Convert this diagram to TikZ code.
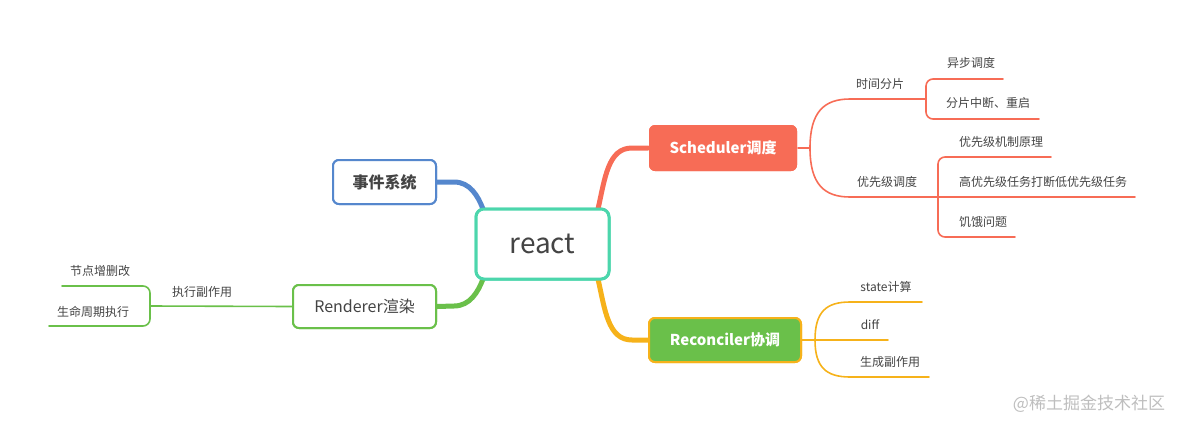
\documentclass[tikz,border=0pt]{standalone}
\usepackage{fontspec}
\setmainfont{Noto Sans CJK SC}
\definecolor{cred}{RGB}{247,108,86}
\definecolor{cgreen}{RGB}{106,192,74}
\definecolor{cyellow}{RGB}{246,178,26}
\definecolor{cblue}{RGB}{85,135,205}
\definecolor{cteal}{RGB}{76,214,172}
\definecolor{ctext}{RGB}{68,68,68}
\definecolor{cwm}{RGB}{190,190,190}
\tikzset{
  topicbox/.style={draw, rounded corners=6pt, line width=2pt, inner sep=0pt, text=ctext, font=\fontsize{16}{18}\selectfont},
  leaf/.style={text=ctext, font=\fontsize{12}{14}\selectfont, inner sep=0pt},
  thick branch/.style={line width=5pt, line cap=round},
  thin branch/.style={line width=1.6pt, line cap=round},
}
\begin{document}
\begin{tikzpicture}[x=1pt,y=-1pt]
\useasboundingbox (0,0) rectangle (1185,429);
% main nodes
\node[topicbox, draw=cteal, line width=3pt, rounded corners=8pt, minimum width=133pt, minimum height=70pt, font=\fontsize{28}{30}\selectfont] (root) at (542.5,244) {react};
\node[topicbox, draw=cblue, minimum width=103pt, minimum height=44pt, font=\fontsize{16}{18}\selectfont\bfseries] (ev) at (384.5,182) {事件系统};
\node[topicbox, draw=cgreen, minimum width=143pt, minimum height=43pt] (rd) at (364.5,306.5) {Renderer渲染};
\node[topicbox, draw=none, fill=cred, text=white, minimum width=148pt, minimum height=46pt, font=\fontsize{15}{18}\selectfont\bfseries] (sc) at (723,148) {Scheduler调度};
\node[topicbox, draw=cyellow, fill=cgreen, text=white, minimum width=152pt, minimum height=44pt, font=\fontsize{15}{18}\selectfont\bfseries] (rc) at (725,340) {Reconciler协调};
% main connectors
\coordinate (rootTL) at (483,209);
\coordinate (rootBL) at (483,279);
\coordinate (rootTR) at (598,209);
\coordinate (rootBR) at (598,279);
\begin{scope}[on background layer/.style={}]
\draw[thick branch, draw=cblue] (ev.east) -- (454,182) .. controls (470,182) and (478,196) .. (rootTL);
\draw[thick branch, draw=cgreen] (rd.east) -- (454,306) .. controls (470,306) and (478,292) .. (rootBL);
\draw[thick branch, draw=cred] (rootTR) .. controls (605,178) and (608,148) .. (632,148) -- (sc.west);
\draw[thick branch, draw=cyellow] (rootBR) .. controls (605,310) and (608,340) .. (632,340) -- (rc.west);
\end{scope}
\node[topicbox, draw=cteal, line width=3pt, rounded corners=8pt, fill=white, minimum width=133pt, minimum height=70pt, font=\fontsize{28}{30}\selectfont] at (root) {react};
\node[topicbox, draw=cblue, fill=white, minimum width=103pt, minimum height=44pt, font=\fontsize{16}{18}\selectfont\bfseries] at (ev) {事件系统};
\node[topicbox, draw=cgreen, fill=white, minimum width=143pt, minimum height=43pt] at (rd) {Renderer渲染};
\node[topicbox, draw=none, fill=cred, text=white, minimum width=148pt, minimum height=46pt, font=\fontsize{15}{18}\selectfont\bfseries] at (sc) {Scheduler调度};
\node[topicbox, draw=cyellow, fill=cgreen, text=white, minimum width=152pt, minimum height=44pt, font=\fontsize{15}{18}\selectfont\bfseries] at (rc) {Reconciler协调};

% Scheduler subtree
\coordinate (scj) at (810,148);
\coordinate (tsEnd) at (926,99);
\coordinate (prEnd) at (938,197);
\draw[thin branch, draw=cred] (sc.east) -- (scj);
\draw[thin branch, draw=cred] (scj) .. controls (810,112) and (824,99) .. (850,99) -- (tsEnd);
\draw[thin branch, draw=cred] (scj) .. controls (810,184) and (824,197) .. (850,197) -- (prEnd);
\node[leaf] (ts) at (880,84) {时间分片};
\node[leaf] (pr) at (887,182) {优先级调度};
\draw[thin branch, draw=cred, rounded corners=7pt] (1003,79) -- (926,79) -- (926,119) -- (1039,119);
\node[leaf] (a1) at (971,63) {异步调度};
\node[leaf] (a2) at (988,103) {分片中断、重启};
\draw[thin branch, draw=cred, rounded corners=7pt] (1051,157) -- (938,157) -- (938,237) -- (1015,237);
\draw[thin branch, draw=cred] (prEnd) -- (1135,197);
\node[leaf] (b1) at (1001,142) {优先级机制原理};
\node[leaf] (b2) at (1043,182) {高优先级任务打断低优先级任务};
\node[leaf] (b3) at (983,222) {饥饿问题};

% Reconciler subtree
\coordinate (rcj) at (815,340);
\draw[thin branch, draw=cyellow] (rc.east) -- (rcj) -- (888,340);
\draw[thin branch, draw=cyellow] (rcj) .. controls (815,312) and (826,302) .. (850,302) -- (922,302);
\draw[thin branch, draw=cyellow] (rcj) .. controls (815,367) and (826,377) .. (850,377) -- (929,377);
\node[leaf] (c1) at (886,287) {state计算};
\node[leaf] (c2) at (870,325) {diff};
\node[leaf] (c3) at (890,362) {生成副作用};

% Renderer subtree
\coordinate (rdj) at (150,306);
\draw[thin branch, draw=cgreen] (rd.west) -- (rdj);
\draw[thin branch, draw=cgreen, rounded corners=7pt] (62,286) -- (150,286) -- (150,326) -- (49,326);
\node[leaf] (d0) at (202,292) {执行副作用};
\node[leaf] (d1) at (100,271) {节点增删改};
\node[leaf] (d2) at (93,312) {生命周期执行};

% watermark
\node[text=cwm, font=\fontsize{17}{19}\selectfont, inner sep=0pt] (wm) at (1089,404) {@稀土掘金技术社区};
\end{tikzpicture}
\end{document}
